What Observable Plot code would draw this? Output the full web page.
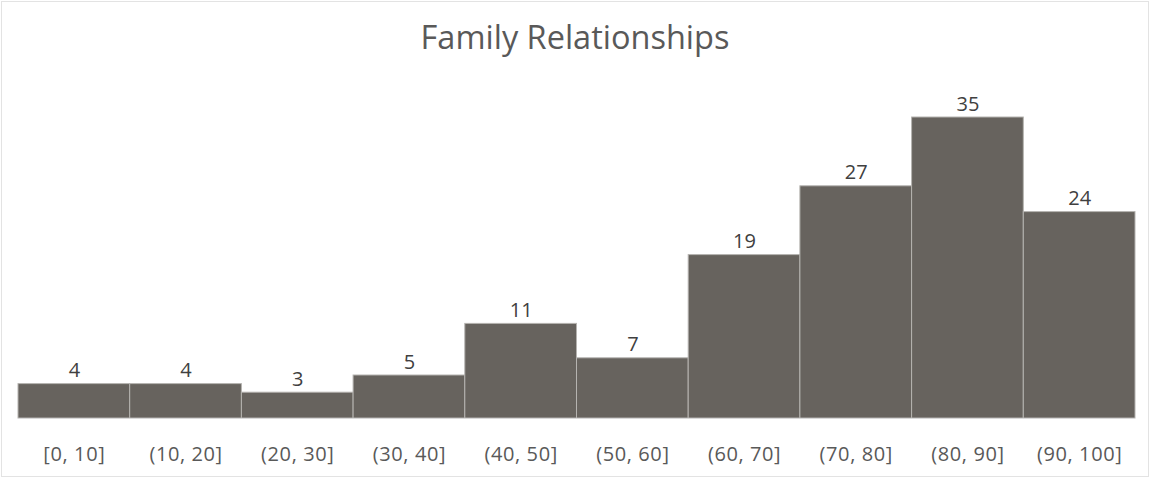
<!DOCTYPE html>
<html>
<head>
<meta charset="utf-8">
<script src="https://cdn.jsdelivr.net/npm/d3@7"></script>
<script src="https://cdn.jsdelivr.net/npm/@observablehq/plot@0.6"></script>
<style>
  html, body { margin: 0; padding: 0; background: #fff; }
  #chart {
    position: relative;
    width: 1150px;
    height: 479px;
    overflow: hidden;
    font-family: "Open Sans", sans-serif;
  }
  #frame {
    position: absolute;
    left: 1px; top: 1px;
    width: 1146px; height: 474px;
    border: 1px solid #e3e3e3;
    pointer-events: none;
  }
  #title {
    height: 74px;
    text-align: center;
    font-size: 32.5px;
    color: #595959;
    line-height: 74px;
  }
  #plot svg { display: block; }
</style>
</head>
<body>
<div id="chart">
  <div id="title">Family Relationships</div>
  <div id="plot"></div>
  <div id="frame"></div>
</div>
<script>
// Score bins and how many families fall in each
const bins = ["[0, 10]", "(10, 20]", "(20, 30]", "(30, 40]", "(40, 50]",
              "(50, 60]", "(60, 70]", "(70, 80]", "(80, 90]", "(90, 100]"];
const counts = [4, 4, 3, 5, 11, 7, 19, 27, 35, 24];

const data = bins.map((bin, i) => ({bin, count: counts[i]}));

const plot = Plot.plot({
  width: 1150,
  height: 405,
  marginTop: 0,
  marginLeft: 18,
  marginRight: 15,
  marginBottom: 61,
  style: {fontFamily: "Open Sans, sans-serif", background: "transparent"},
  x: {domain: bins, padding: 0, round: false, label: null},
  y: {domain: [0, 40], axis: null},
  marks: [
    Plot.barY(data, {
      x: "bin", y: "count",
      fill: "#67635e",
      stroke: "#b5b3b0",
      strokeWidth: 1,
      inset: 0
    }),
    Plot.ruleY([0], {stroke: "#d9d9d9"}),
    Plot.text(data, {
      x: "bin", y: "count",
      text: d => String(d.count),
      lineAnchor: "bottom",
      dy: -7,
      fontSize: 20,
      fill: "#404040",
      style: {letterSpacing: "0.5px"}
    }),
    Plot.axisX({
      tickSize: 0,
      tickPadding: 28,
      fontSize: 20,
      color: "#595959",
      label: null
    })
  ]
});

plot.querySelectorAll("[aria-label='x-axis tick label'] text").forEach(t => {
  t.style.letterSpacing = "0.6px";
});

document.getElementById("plot").appendChild(plot);
</script>
</body>
</html>
